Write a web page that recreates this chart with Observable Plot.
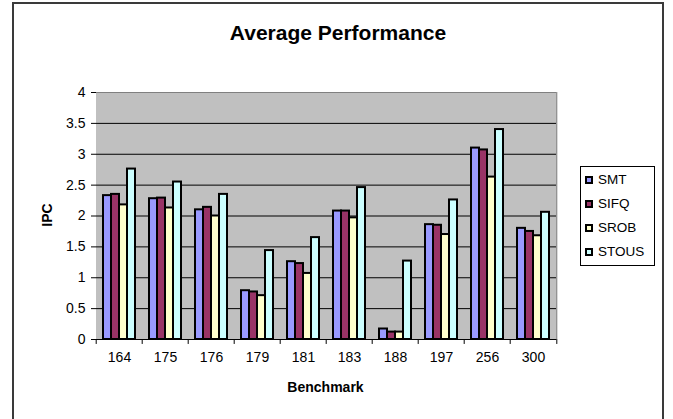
<!DOCTYPE html>
<html><head><meta charset="utf-8">
<script src="https://cdn.jsdelivr.net/npm/d3@7"></script>
<script src="https://cdn.jsdelivr.net/npm/@observablehq/plot@0.6"></script>
<style>
body{margin:0;background:#fff;font-family:"Liberation Sans",Arial,sans-serif;color:#000;}
#wrap{position:relative;width:673px;height:419px;overflow:hidden;background:#fff;}
#border{position:absolute;left:12px;top:2px;width:648px;height:440px;border:2px solid #3a3a3a;}
#title{position:absolute;left:138px;width:400px;top:22px;text-align:center;font-weight:bold;font-size:21px;line-height:21px;white-space:nowrap;}
#ylab{position:absolute;left:47px;top:215px;transform:translate(-50%,-50%) rotate(-90deg);font-weight:bold;font-size:14px;line-height:14px;white-space:nowrap;}
#xlab{position:absolute;left:325.5px;top:380px;transform:translateX(-50%);font-weight:bold;font-size:14px;line-height:14px;white-space:nowrap;}
#chart{position:absolute;left:0;top:80px;}
#legend{position:absolute;left:580px;top:166px;width:73px;height:97px;border:1px solid #000;background:#fff;padding-top:1px;box-sizing:content-box;}
.item{height:24px;line-height:24px;font-size:13.5px;display:flex;align-items:center;padding-left:4px;}
.sw{width:4px;height:4px;border:2px solid #000;margin-right:5px;flex:none;}
</style></head><body>
<div id="wrap">
  <div id="border"></div>
  <div id="title">Average Performance</div>
  <div id="ylab">IPC</div>
  <div id="chart"></div>
  <div id="xlab">Benchmark</div>
  <div id="legend"></div>
</div>
<script>
const benchmarks = ["164","175","176","179","181","183","188","197","256","300"];
const seriesNames = ["SMT","SIFQ","SROB","STOUS"];
const smt   = [2.33,2.28,2.10,0.79,1.26,2.08,0.17,1.86,3.10,1.80];
const sifq  = [2.35,2.29,2.14,0.77,1.23,2.08,0.12,1.85,3.07,1.75];
const srob  = [2.18,2.13,2.00,0.71,1.07,1.97,0.12,1.70,2.63,1.68];
const stous = [2.76,2.55,2.35,1.44,1.65,2.46,1.27,2.26,3.40,2.06];
const colors = ["#9999FF","#993366","#FFFFCC","#CCFFFF"];
const yTicks = [0,0.5,1,1.5,2,2.5,3,3.5,4];

const seriesValues = [smt, sifq, srob, stous];
const data = benchmarks.flatMap((b, i) =>
  seriesNames.map((s, k) => ({bench: b, series: s, value: seriesValues[k][i]})));

const W = 673, H = 310, ml = 93, mr = 114, mt = 12, mb = 51;
const fw = (W - ml - mr) / benchmarks.length;
const last = benchmarks[benchmarks.length - 1];

const chart = Plot.plot({
  width: W, height: H,
  marginLeft: ml, marginRight: mr, marginTop: mt, marginBottom: mb,
  style: {fontFamily: "'Liberation Sans', Arial, sans-serif", fontSize: "13.5px", color: "#000", background: "transparent", overflow: "visible"},
  fx: {domain: benchmarks, padding: 0, label: null, tickSize: 0, tickPadding: 13},
  x: {domain: seriesNames, paddingInner: 0, paddingOuter: 0.7, axis: null},
  y: {domain: [0, 4], ticks: yTicks, tickFormat: d => String(d), tickSize: 5, tickPadding: 6, label: null, line: true},
  color: {domain: seriesNames, range: colors},
  marks: [
    Plot.frame({fill: "#C0C0C0", stroke: "#C0C0C0"}),
    Plot.ruleY(yTicks.filter(t => t > 0 && t < 4), {stroke: "#000"}),
    Plot.ruleY([4], {stroke: "#808080"}),
    Plot.barY(data, {fx: "bench", x: "series", y: "value", fill: "series", stroke: "#000", strokeWidth: 2}),
    Plot.ruleY([0], {stroke: "#000"}),
    Plot.ruleX(benchmarks, {fx: d => d, x: null, y1: 0, y2: -0.08, dx: -fw / 2, stroke: "#000"}),
    Plot.ruleX([last], {fx: d => d, x: null, y1: 0, y2: 4, dx: fw / 2, stroke: "#808080"}),
    Plot.ruleX([last], {fx: d => d, x: null, y1: 0, y2: -0.08, dx: fw / 2, stroke: "#000"})
  ]
});
d3.select(chart).selectAll("g[aria-label$='tick label']").attr("font-size", null).style("font-size", "14px");
d3.select(chart).selectAll("text").style("font-size", "14px").style("font-family", "'Liberation Sans', Arial, sans-serif").attr("fill", "#000");
document.getElementById("chart").appendChild(chart);

const legend = document.getElementById("legend");
seriesNames.forEach((s, k) => {
  const item = document.createElement("div");
  item.className = "item";
  const sw = document.createElement("span");
  sw.className = "sw";
  sw.style.background = colors[k];
  item.appendChild(sw);
  item.appendChild(document.createTextNode(s));
  legend.appendChild(item);
});
</script>
</body></html>
